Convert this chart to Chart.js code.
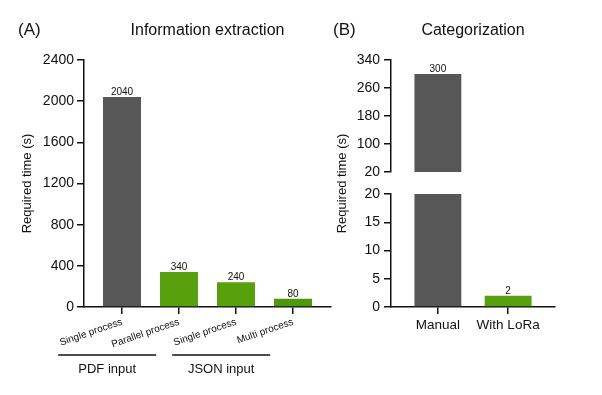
<!DOCTYPE html>
<html>
<head>
<meta charset="utf-8">
<script src="https://cdn.jsdelivr.net/npm/chart.js@4.4.0/dist/chart.umd.min.js"></script>
<style>
  body { margin: 0; background: #fff; }
  .panel { position: absolute; top: 0; }
  #panelA { left: 0; }
  #panelB { left: 330px; }
</style>
</head>
<body>
<div class="panel" id="panelA"><canvas id="chartA" width="335" height="395"></canvas></div>
<div class="panel" id="panelB"><canvas id="chartB" width="272" height="395"></canvas></div>
<script>
// panel A - information extraction
const catA = ['Single process', 'Parallel process', 'Single process', 'Multi process'];
const timeA = [2040, 340, 240, 80];
const colorA = ['#575757', '#58A00E', '#58A00E', '#4F980C'];
const groupA = [
  { label: 'PDF input', from: 0, to: 1 },
  { label: 'JSON input', from: 2, to: 3 }
];
const ticksA = [0, 400, 800, 1200, 1600, 2000, 2400];

// panel B - categorization (broken y axis)
const catB = ['Manual', 'With LoRa'];
const timeB = [300, 2];
const colorB = ['#575757', '#58A00E'];
const ticksBTop = [20, 100, 180, 260, 340];
const ticksBBottom = [0, 5, 10, 15, 20];

const FONT = "'Liberation Sans', Arial, sans-serif";
const INK = '#111';
const SIDE = 0.667; // space at both ends of the x axis, in category units

const axisGrid = { display: true, offset: false, drawOnChartArea: false, drawTicks: true, tickLength: 7, color: INK, lineWidth: 1.5 };
const axisBorder = { display: true, color: INK, width: 1.5 };

// titles "(A)" + chart title
function headerPlugin(tag, title) {
  return {
    id: 'header',
    afterDraw(chart) {
      const ctx = chart.ctx, ca = chart.chartArea;
      ctx.save();
      ctx.fillStyle = INK;
      ctx.textBaseline = 'alphabetic';
      ctx.font = '17px ' + FONT;
      ctx.textAlign = 'left';
      ctx.fillText(tag.text, tag.x, 35);
      ctx.font = '16px ' + FONT;
      ctx.textAlign = 'center';
      ctx.fillText(title, (ca.left + ca.right) / 2, 35);
      ctx.restore();
    }
  };
}

// value on top of each bar (only when the value is inside its axis)
const valueLabels = {
  id: 'valueLabels',
  afterDatasetsDraw(chart) {
    const ctx = chart.ctx;
    ctx.save();
    ctx.font = '10px ' + FONT;
    ctx.fillStyle = INK;
    ctx.textAlign = 'center';
    ctx.textBaseline = 'alphabetic';
    chart.data.datasets.forEach((ds, di) => {
      const meta = chart.getDatasetMeta(di);
      const ys = meta.yScale;
      meta.data.forEach((el, i) => {
        const v = ds.data[i].y;
        if (v < ys.min || v > ys.max) return;
        ctx.fillText(String(v), el.x, el.y - 2);
      });
    });
    ctx.restore();
  }
};

// group brackets under panel A
const groupLines = {
  id: 'groupLines',
  afterDraw(chart) {
    const ctx = chart.ctx, xs = chart.scales.x, bottom = chart.chartArea.bottom;
    ctx.save();
    ctx.strokeStyle = INK;
    ctx.lineWidth = 1.3;
    ctx.fillStyle = INK;
    ctx.font = '13px ' + FONT;
    ctx.textAlign = 'center';
    ctx.textBaseline = 'middle';
    groupA.forEach(g => {
      const x1 = xs.getPixelForValue(g.from + 1 - 1.12);
      const x2 = xs.getPixelForValue(g.to + 1 - 0.4);
      ctx.beginPath();
      ctx.moveTo(x1, bottom + 48);
      ctx.lineTo(x2, bottom + 48);
      ctx.stroke();
      ctx.fillText(g.label, (x1 + x2) / 2, bottom + 62);
    });
    ctx.restore();
  }
};

// shared y title for the two stacked axes of panel B
const splitTitle = {
  id: 'splitTitle',
  afterDraw(chart) {
    const ctx = chart.ctx, top = chart.scales.yTop, bot = chart.scales.yBottom;
    ctx.save();
    ctx.translate(top.left + 12, (top.top + bot.bottom) / 2);
    ctx.rotate(-Math.PI / 2);
    ctx.font = '13px ' + FONT;
    ctx.fillStyle = INK;
    ctx.textAlign = 'center';
    ctx.textBaseline = 'middle';
    ctx.fillText('Required time (s)', 0, 0);
    ctx.restore();
  }
};

const pointsA = catA.map((c, i) => ({ x: i + 1, y: timeA[i] }));
const pointsB = catB.map((c, i) => ({ x: i + 1, y: timeB[i] }));

const yTicks = { padding: 3, autoSkip: false, color: INK, font: { family: FONT, size: 14 }, callback: v => String(v) };
const barStyle = { barPercentage: 0.667, categoryPercentage: 1, grouped: false, clip: 0 };

new Chart(document.getElementById('chartA'), {
  type: 'bar',
  data: {
    datasets: [{ data: pointsA, backgroundColor: colorA, ...barStyle }]
  },
  options: {
    responsive: false,
    animation: false,
    layout: { padding: { top: 60, right: 4, bottom: 0, left: 0 } },
    plugins: { legend: { display: false }, tooltip: { enabled: false } },
    scales: {
      x: {
        type: 'linear',
        offset: false,
        min: 1 - SIDE,
        max: catA.length + SIDE,
        afterBuildTicks: s => { s.ticks = catA.map((c, i) => ({ value: i + 1 })); },
        afterFit: s => { s.height = 88; },
        ticks: {
          callback: v => catA[v - 1],
          minRotation: 19,
          maxRotation: 19,
          autoSkip: false,
          padding: 2,
          color: INK,
          font: { family: FONT, size: 10 }
        },
        grid: axisGrid,
        border: axisBorder
      },
      y: {
        min: 0,
        max: 2400,
        afterBuildTicks: s => { s.ticks = ticksA.map(v => ({ value: v })); },
        afterFit: s => { s.width = 84; },
        ticks: yTicks,
        grid: axisGrid,
        border: axisBorder,
        title: {
          display: true,
          text: 'Required time (s)',
          color: INK,
          font: { family: FONT, size: 13 },
          padding: { top: 20, bottom: 0 }
        }
      }
    }
  },
  plugins: [headerPlugin({ text: '(A)', x: 18 }, 'Information extraction'), valueLabels, groupLines]
});

new Chart(document.getElementById('chartB'), {
  type: 'bar',
  data: {
    datasets: [
      { data: pointsB, yAxisID: 'yTop', backgroundColor: colorB, ...barStyle },
      { data: pointsB, yAxisID: 'yBottom', backgroundColor: colorB, ...barStyle }
    ]
  },
  options: {
    responsive: false,
    animation: false,
    layout: { padding: { top: 60, right: 47, bottom: 0, left: 0 } },
    plugins: { legend: { display: false }, tooltip: { enabled: false } },
    scales: {
      x: {
        type: 'linear',
        offset: false,
        min: 1 - SIDE,
        max: catB.length + SIDE,
        afterBuildTicks: s => { s.ticks = catB.map((c, i) => ({ value: i + 1 })); },
        afterFit: s => { s.height = 88; },
        ticks: {
          callback: v => catB[v - 1],
          maxRotation: 0,
          autoSkip: false,
          padding: 3,
          color: INK,
          font: { family: FONT, size: 13.5 }
        },
        grid: axisGrid,
        border: axisBorder
      },
      yBottom: {
        position: 'left',
        stack: 'split',
        stackWeight: 113,
        weight: 1,
        min: 0,
        max: 20,
        afterBuildTicks: s => { s.ticks = ticksBBottom.map(v => ({ value: v })); },
        afterFit: s => { s.width = 61; },
        ticks: { ...yTicks, padding: 4 },
        grid: axisGrid,
        border: axisBorder
      },
      yGap: {
        position: 'left',
        stack: 'split',
        stackWeight: 22,
        weight: 2,
        display: false,
        afterFit: s => { s.width = 61; }
      },
      yTop: {
        position: 'left',
        stack: 'split',
        stackWeight: 112,
        weight: 3,
        min: 20,
        max: 340,
        afterBuildTicks: s => { s.ticks = ticksBTop.map(v => ({ value: v })); },
        afterFit: s => { s.width = 61; },
        ticks: { ...yTicks, padding: 4 },
        grid: axisGrid,
        border: axisBorder
      }
    }
  },
  plugins: [headerPlugin({ text: '(B)', x: 3 }, 'Categorization'), valueLabels, splitTitle]
});
</script>
</body>
</html>
